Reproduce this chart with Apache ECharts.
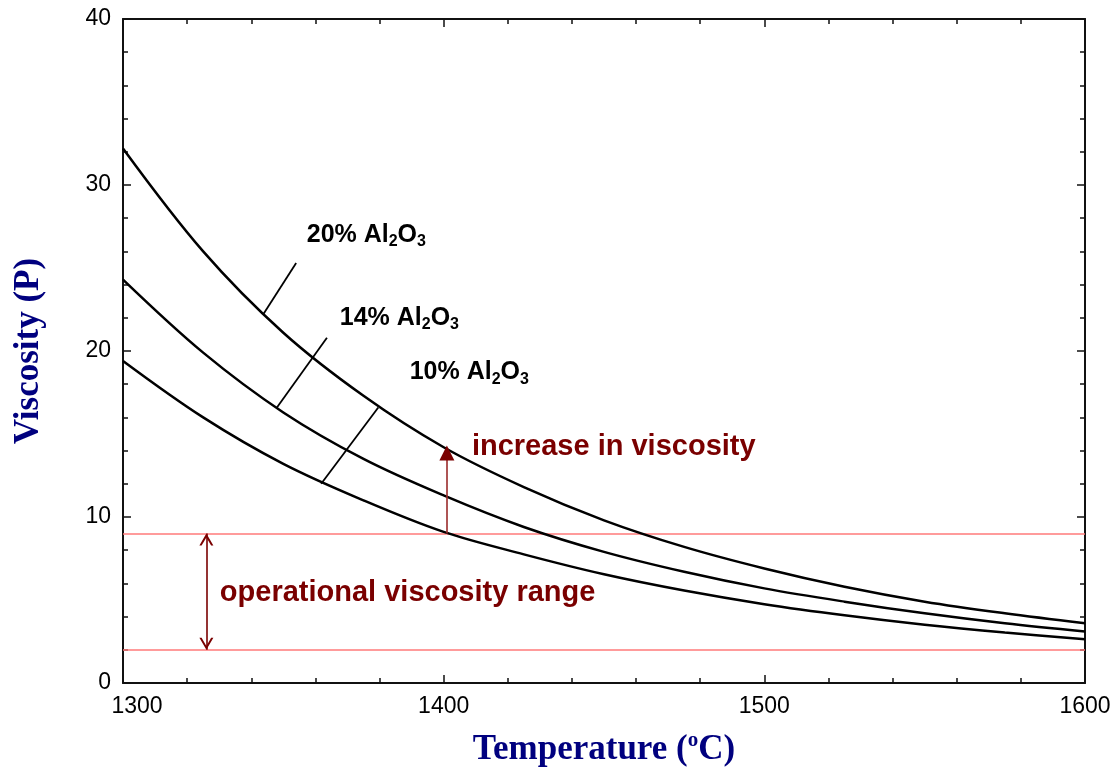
<!DOCTYPE html>
<html>
<head>
<meta charset="utf-8">
<script src="https://cdn.jsdelivr.net/npm/echarts@6/dist/echarts.min.js"></script>
<style>
  html, body { margin: 0; padding: 0; background: #fff; }
  #chart { width: 1120px; height: 768px; }
</style>
</head>
<body>
<div id="chart"></div>
<script>
// Slag viscosity vs temperature for three alumina contents
const temperatures = [1300, 1325, 1350, 1375, 1400, 1425, 1450, 1475, 1500, 1525, 1550, 1575, 1600];
const visc20 = [32.2, 26.0, 21.1, 17.3, 14.2, 11.8, 9.8, 8.2, 6.9, 5.8, 4.9, 4.2, 3.6];
const visc14 = [24.3, 19.9, 16.3, 13.5, 11.3, 9.4, 7.9, 6.7, 5.7, 4.9, 4.2, 3.6, 3.1];
const visc10 = [19.4, 16.0, 13.2, 11.0, 9.1, 7.75, 6.55, 5.57, 4.75, 4.08, 3.51, 3.04, 2.64];

// Axis ranges and ticks
const xTicks = { min: 1300, max: 1600, step: 100 };
const yTicks = { min: 0, max: 40, step: 10 };

// Operational viscosity window (P)
const operationalRange = [2, 9];

// Curve labels: anchor [T, viscosity] and text
const curveLabelAnchors = [[1357.3, 27.0], [1367.6, 22.0], [1389.4, 18.7]];
const curveLabelTexts = ['20% Al{sub|2}O{sub|3}', '14% Al{sub|2}O{sub|3}', '10% Al{sub|2}O{sub|3}'];

// Leader lines from each curve to its label
const leaderLines = [
  [[1343.7, 22.2], [1354.0, 25.3]],
  [[1348.0, 16.6], [1363.6, 20.8]],
  [[1361.8, 12.0], [1379.6, 16.6]]
];

// Arrow showing the rise in viscosity at 1400 °C
const increaseArrow = { t: 1401, from: 9, to: 14.3 };
// Double arrow spanning the operational window
const rangeArrowT = 1326;

// Annotation texts and anchors
const annotations = [
  { text: 'increase in viscosity', at: [1408.8, 14.2] },
  { text: 'operational viscosity range', at: [1330.2, 5.4] }
];

const DARK_RED = '#7a0000';
const RANGE_RED = '#ff7a7a';
const SANS = '"Liberation Sans", Arial, sans-serif';
const SERIF = '"Liberation Serif", "Times New Roman", serif';
const chevron = 'path://M0,10 L5,0 L10,10 L8.4,10 L5,3.2 L1.6,10 Z';

const chart = echarts.init(document.getElementById('chart'), null, { renderer: 'canvas' });

function axisCommon(extra) {
  return Object.assign({
    type: 'value',
    axisLine: { show: true, onZero: false, lineStyle: { color: '#111', width: 2 } },
    axisTick: { show: true, inside: true, length: 8, lineStyle: { color: '#111', width: 1.5 } },
    minorTick: { show: true, splitNumber: 5, length: 5, lineStyle: { color: '#111', width: 1.5 } },
    splitLine: { show: false },
    minorSplitLine: { show: false }
  }, extra);
}

const labelStyle = {
  fontFamily: SANS, fontWeight: 'bold', fontSize: 25, color: '#000', lineHeight: 30, opacity: 1
};

const option = {
  animation: false,
  backgroundColor: '#fff',
  grid: { left: 123, right: 35, top: 19, bottom: 85, containLabel: false, outerBoundsMode: 'none' },
  xAxis: [
    axisCommon({
      min: xTicks.min, max: xTicks.max, interval: xTicks.step,
      name: 'Temperature ({sup|o}C)',
      nameLocation: 'middle', nameGap: 47,
      nameTextStyle: {
        fontFamily: SERIF, fontWeight: 'bold', fontSize: 35, color: '#00007f', lineHeight: 40,
        rich: { sup: { fontFamily: SERIF, fontWeight: 'bold', fontSize: 21, color: '#00007f', lineHeight: 18, verticalAlign: 'top' } }
      },
      axisLabel: {
        show: true, margin: 12, fontFamily: SANS, fontSize: 23, color: '#000',
        formatter: v => v === xTicks.min ? '{first|' + v + '}' : String(v),
        rich: { first: { fontFamily: SANS, fontSize: 23, color: '#000', padding: [0, 0, 0, 28] } }
      }
    }),
    axisCommon({
      position: 'top', min: xTicks.min, max: xTicks.max, interval: xTicks.step,
      axisLabel: { show: false }
    })
  ],
  yAxis: [
    axisCommon({
      min: yTicks.min, max: yTicks.max, interval: yTicks.step,
      name: 'Viscosity (P)', nameLocation: 'middle', nameGap: 77, nameRotate: 90,
      nameTextStyle: { fontFamily: SERIF, fontWeight: 'bold', fontSize: 35, color: '#00007f' },
      axisLabel: { show: true, margin: 12, fontFamily: SANS, fontSize: 23, color: '#000' }
    }),
    axisCommon({
      position: 'right', min: yTicks.min, max: yTicks.max, interval: yTicks.step,
      axisLabel: { show: false }
    })
  ],
  series: [
    // operational window limits
    {
      type: 'lines', coordinateSystem: 'cartesian2d', silent: true, z: 2,
      lineStyle: { color: RANGE_RED, width: 1.5, opacity: 1 },
      data: operationalRange.map(v => ({ coords: [[xTicks.min, v], [xTicks.max, v]] }))
    },
    // viscosity curves
    ...[visc20, visc14, visc10].map(vals => ({
      type: 'line', smooth: 0.35, showSymbol: false, silent: true, z: 3,
      lineStyle: { color: '#000', width: 2.5 },
      data: temperatures.map((t, i) => [t, vals[i]])
    })),
    // leader lines
    {
      type: 'lines', coordinateSystem: 'cartesian2d', silent: true, z: 3,
      lineStyle: { color: '#000', width: 1.8, opacity: 1 },
      data: leaderLines.map(c => ({ coords: c }))
    },
    // curve labels
    {
      type: 'scatter', symbolSize: 0, silent: true, z: 5,
      itemStyle: { opacity: 1 },
      data: curveLabelAnchors.map((p, i) => ({ value: p, text: curveLabelTexts[i] })),
      label: {
        show: true, position: 'right', distance: 0, opacity: 1, color: '#000',
        formatter: p => p.data.text.replace(/^([^{]*)/, '{m|$1}').replace(/\}O\{/, '}{m|O}{'),
        rich: {
          m: labelStyle,
          sub: { fontFamily: SANS, fontWeight: 'bold', fontSize: 16, color: '#000', lineHeight: 12, verticalAlign: 'bottom', opacity: 1 }
        }
      }
    },
    // arrow shafts
    {
      type: 'lines', coordinateSystem: 'cartesian2d', silent: true, z: 4,
      lineStyle: { color: '#9a2a2a', width: 2, opacity: 0.8 },
      data: [
        { coords: [[increaseArrow.t, increaseArrow.from], [increaseArrow.t, increaseArrow.to - 0.6]] },
        { coords: [[rangeArrowT, operationalRange[0]], [rangeArrowT, operationalRange[1]]], lineStyle: { color: DARK_RED, width: 1.6, opacity: 1 } }
      ]
    },
    // arrow heads
    {
      type: 'scatter', silent: true, z: 6,
      itemStyle: { color: DARK_RED, opacity: 1 },
      data: [
        { value: [increaseArrow.t, increaseArrow.to], symbol: 'triangle', symbolSize: [15, 15], symbolOffset: [0, '50%'] },
        { value: [rangeArrowT, operationalRange[1]], symbol: chevron, symbolSize: [14, 12], symbolOffset: [0, '50%'] },
        { value: [rangeArrowT, operationalRange[0]], symbol: chevron, symbolSize: [14, 12], symbolRotate: 180, symbolOffset: [0, '-50%'] }
      ]
    },
    // annotation texts
    {
      type: 'scatter', symbolSize: 0, silent: true, z: 6,
      itemStyle: { opacity: 1 },
      data: annotations.map(a => ({ value: a.at, text: a.text })),
      label: {
        show: true, position: 'right', distance: 0, opacity: 1,
        formatter: p => p.data.text,
        fontFamily: SANS, fontWeight: 'bold', fontSize: 29, color: DARK_RED
      }
    }
  ]
};

chart.setOption(option);
</script>
</body>
</html>
